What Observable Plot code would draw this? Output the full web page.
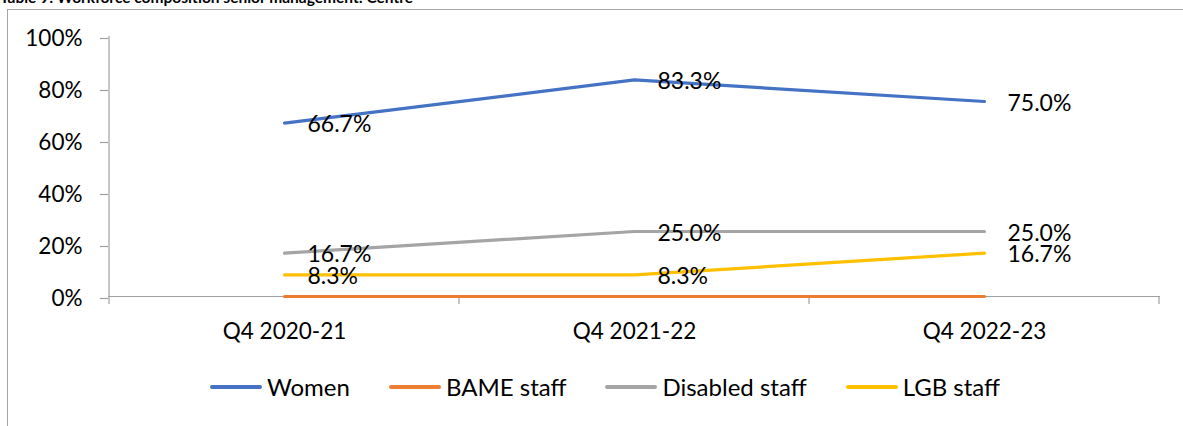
<!DOCTYPE html>
<html>
<head>
<meta charset="utf-8">
<script src="https://cdn.jsdelivr.net/npm/d3@7"></script>
<script src="https://cdn.jsdelivr.net/npm/@observablehq/plot@0.6"></script>
<style>
  html, body { margin: 0; padding: 0; background: #fff; }
  body { width: 1183px; height: 426px; overflow: hidden; position: relative; font-family: Lato, "Open Sans", sans-serif; }
  #title { position: absolute; left: 0; top: -12px; font-weight: bold; font-size: 15.5px; white-space: nowrap; color: #000; }
  #box { position: absolute; left: 7px; top: 9px; width: 1200px; height: 430px; border-left: 1.5px solid #A6A6A6; border-top: 1.5px solid #A6A6A6; box-sizing: border-box; }
  #chart { position: absolute; left: 0; top: 0; }
  #legend { position: absolute; left: 210px; top: 372px; display: flex; align-items: center; font-size: 24px; color: #000; }
  .item { display: flex; align-items: center; margin-right: 39px; }
  .sw { width: 52px; height: 4px; border-radius: 2px; margin-right: 5px; }
</style>
</head>
<body>
<div id="title">Table 9: Workforce composition senior management: Centre</div>
<div id="box"></div>
<div id="chart"></div>
<div id="legend"></div>
<script>
const quarters = ["Q4 2020-21", "Q4 2021-22", "Q4 2022-23"];
const seriesNames = ["Women", "BAME staff", "Disabled staff", "LGB staff"];
const seriesColors = ["#4472C4", "#ED7D31", "#A5A5A5", "#FFC000"];
const women = [0.667, 0.833, 0.750];
const bame = [0, 0, 0];
const disabled = [0.167, 0.250, 0.250];
const lgb = [0.083, 0.083, 0.167];
const yTicks = [0, 0.2, 0.4, 0.6, 0.8, 1.0];

const seriesValues = [women, bame, disabled, lgb];
const data = [];
seriesNames.forEach((s, i) => quarters.forEach((q, j) => data.push({series: s, quarter: q, value: seriesValues[i][j]})));

const W = 1183, H = 350;
const axisColor = "#A0A0A0";

const chart = Plot.plot({
  width: W,
  height: H,
  marginLeft: 108,
  marginRight: 23,
  marginTop: 36,
  marginBottom: 54,
  style: {fontFamily: "Lato, 'Open Sans', sans-serif", fontSize: "22.5px", color: "#000", background: "transparent", overflow: "visible"},
  x: {type: "point", domain: quarters, padding: 0.5},
  y: {domain: [0, 1]},
  color: {domain: seriesNames, range: seriesColors},
  marks: [
    Plot.axisY({ticks: yTicks, tickFormat: d3.format(".0%"), tickSize: 8, tickPadding: 18, stroke: axisColor, strokeWidth: 1.2, fill: "#000", label: null, dy: 2}),
    Plot.axisX({tickSize: 0, tickPadding: 27, fill: "#000", label: null}),
    Plot.ruleY([0], {stroke: axisColor, strokeWidth: 1.2}),
    Plot.line(data, {x: "quarter", y: "value", z: "series", stroke: "series", strokeWidth: 3.2, strokeLinecap: "round", strokeLinejoin: "round"}),
    Plot.text(data.filter(d => d.value > 0), {x: "quarter", y: "value", text: d => d3.format(".1%")(d.value), textAnchor: "start", dx: 23, dy: 2, fill: "#000", fontSize: 23})
  ]
});
document.getElementById("chart").appendChild(chart);

// y axis line and category boundary ticks, derived from the library scales
const xs = chart.scale("x"), ys = chart.scale("y");
const c0 = xs.apply(quarters[0]), c1 = xs.apply(quarters[1]);
const step = c1 - c0;
const y0 = ys.apply(0), y1 = ys.apply(1);
const svg = d3.select(chart);
const g = svg.insert("g", ":first-child");
g.append("line").attr("x1", c0 - step / 2).attr("x2", c0 - step / 2).attr("y1", y1).attr("y2", y0)
  .attr("stroke", axisColor).attr("stroke-width", 1.2);
const bounds = quarters.map(q => xs.apply(q) - step / 2).concat([xs.apply(quarters[quarters.length - 1]) + step / 2]);
bounds.forEach(b => g.append("line").attr("x1", b).attr("x2", b).attr("y1", y0).attr("y2", y0 + 8)
  .attr("stroke", axisColor).attr("stroke-width", 1.2));

// legend
const legend = document.getElementById("legend");
seriesNames.forEach((s, i) => {
  const item = document.createElement("div");
  item.className = "item";
  const sw = document.createElement("div");
  sw.className = "sw";
  sw.style.background = seriesColors[i];
  const t = document.createElement("span");
  t.textContent = s;
  item.appendChild(sw); item.appendChild(t);
  legend.appendChild(item);
});
</script>
</body>
</html>
